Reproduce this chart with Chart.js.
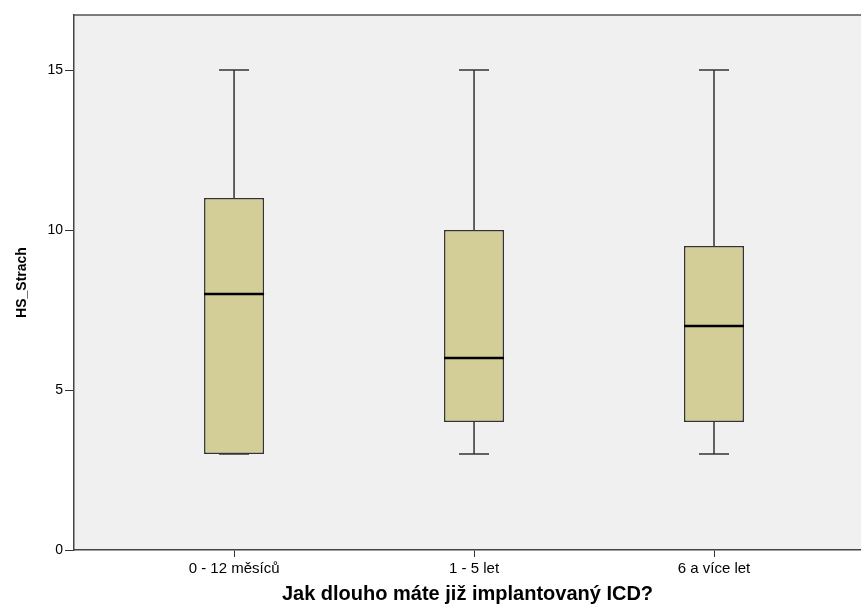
<!DOCTYPE html>
<html lang="cs">
<head>
<meta charset="utf-8">
<title>HS_Strach</title>
<script src="https://cdn.jsdelivr.net/npm/chart.js@4/dist/chart.umd.min.js"></script>
<style>
    body { margin: 0; background: #ffffff; }
    #boxChart { display: block; }
</style>
</head>
<body>
<canvas id="boxChart" width="861" height="606"></canvas>
<script>
// Kategorie a hodnoty boxplotu
const kategorie = ['0 - 12 měsíců', '1 - 5 let', '6 a více let'];
const pozice = [1, 2, 3];
const minima = [3, 3, 3];
const kvartil1 = [3, 4, 4];
const mediany = [8, 6, 7];
const kvartil3 = [11, 10, 9.5];
const maxima = [15, 15, 15];
const yTicks = [0, 5, 10, 15];

const barvaBoxu = '#d3ce97';
const barvaCar = '#333333';

// Pozadi grafu a horni okraj
const pozadiPlugin = {
    id: 'pozadi',
    beforeDraw(chart) {
        const { ctx, chartArea } = chart;
        ctx.save();
        ctx.fillStyle = '#f0f0f0';
        ctx.fillRect(chartArea.left, chartArea.top, chartArea.right - chartArea.left, chartArea.bottom - chartArea.top);
        ctx.strokeStyle = '#555555';
        ctx.lineWidth = 1.5;
        ctx.beginPath();
        ctx.moveTo(chartArea.left, chartArea.top);
        ctx.lineTo(chartArea.right, chartArea.top);
        ctx.stroke();
        ctx.restore();
    }
};

// Vousy a mediany
const vousyPlugin = {
    id: 'vousy',
    afterDatasetsDraw(chart) {
        const { ctx } = chart;
        const xs = chart.scales.x;
        const ys = chart.scales.y;
        const meta = chart.getDatasetMeta(0);
        ctx.save();
        pozice.forEach((p, i) => {
            const x = xs.getPixelForValue(p);
            const pul = meta.data[i].width / 2;
            const cap = pul / 2;
            ctx.strokeStyle = barvaCar;
            ctx.lineWidth = 1.5;
            ctx.beginPath();
            ctx.moveTo(x, ys.getPixelForValue(kvartil3[i]));
            ctx.lineTo(x, ys.getPixelForValue(maxima[i]));
            ctx.moveTo(x - cap, ys.getPixelForValue(maxima[i]));
            ctx.lineTo(x + cap, ys.getPixelForValue(maxima[i]));
            ctx.moveTo(x, ys.getPixelForValue(kvartil1[i]));
            ctx.lineTo(x, ys.getPixelForValue(minima[i]));
            ctx.moveTo(x - cap, ys.getPixelForValue(minima[i]));
            ctx.lineTo(x + cap, ys.getPixelForValue(minima[i]));
            ctx.stroke();

            ctx.strokeStyle = '#000000';
            ctx.lineWidth = 2.5;
            ctx.beginPath();
            ctx.moveTo(x - pul, ys.getPixelForValue(mediany[i]));
            ctx.lineTo(x + pul, ys.getPixelForValue(mediany[i]));
            ctx.stroke();
        });
        ctx.restore();
    }
};

const ctx = document.getElementById('boxChart').getContext('2d');
const boxChart = new Chart(ctx, {
    type: 'bar',
    data: {
        datasets: [{
            label: 'HS_Strach',
            data: pozice.map((p, i) => ({ x: p, y: [kvartil1[i], kvartil3[i]] })),
            backgroundColor: barvaBoxu,
            borderColor: barvaCar,
            borderWidth: 1.5,
            borderSkipped: false,
            categoryPercentage: 1,
            barPercentage: 0.25
        }]
    },
    options: {
        responsive: false,
        animation: false,
        devicePixelRatio: 1,
        layout: { padding: { top: 15, right: 0, left: 0, bottom: 0 } },
        plugins: {
            legend: { display: false },
            tooltip: { enabled: false }
        },
        scales: {
            x: {
                type: 'linear',
                offset: false,
                min: 0.333,
                max: 3.6125,
                afterBuildTicks: scale => { scale.ticks = pozice.map(v => ({ value: v })); },
                afterFit: scale => { scale.height = 56; },
                grid: { offset: false, drawOnChartArea: false, tickLength: 7, color: barvaCar },
                border: { display: true, color: '#444444', width: 1.5 },
                ticks: {
                    color: '#000000',
                    padding: 3,
                    maxRotation: 0,
                    font: { family: 'Arial, "Liberation Sans"', size: 15 },
                    callback: value => kategorie[pozice.indexOf(value)]
                },
                title: {
                    display: true,
                    text: 'Jak dlouho máte již implantovaný ICD?',
                    color: '#000000',
                    padding: { top: 0, bottom: 0 },
                    font: { family: 'Arial, "Liberation Sans"', size: 20, weight: 'bold' }
                }
            },
            y: {
                min: 0,
                max: 16.72,
                afterBuildTicks: scale => { scale.ticks = yTicks.map(v => ({ value: v })); },
                afterFit: scale => { scale.width = 74; },
                grid: { drawOnChartArea: false, tickLength: 9, color: barvaCar },
                border: { display: true, color: '#444444', width: 1.5 },
                ticks: {
                    color: '#000000',
                    padding: 2,
                    font: { family: 'Arial, "Liberation Sans"', size: 14 }
                },
                title: {
                    display: true,
                    text: 'HS_Strach',
                    color: '#000000',
                    padding: { top: 14, bottom: 0 },
                    font: { family: 'Arial, "Liberation Sans"', size: 14, weight: 'bold' }
                }
            }
        }
    },
    plugins: [pozadiPlugin, vousyPlugin]
});
</script>
</body>
</html>
